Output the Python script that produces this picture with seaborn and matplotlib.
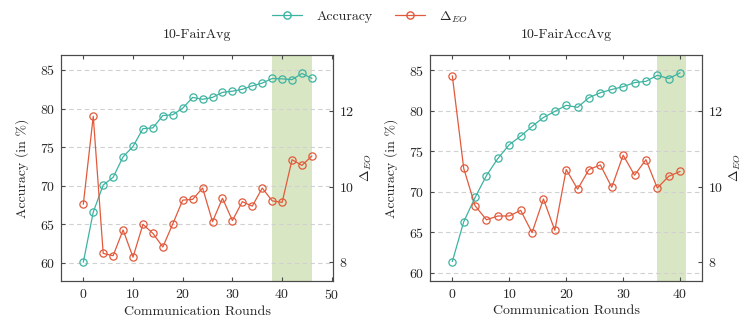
import numpy as np
import pandas as pd
import matplotlib
matplotlib.use("Agg")
import matplotlib.pyplot as plt
import seaborn as sns
from matplotlib.lines import Line2D

# ---------------- data ----------------
rounds_fairavg = list(range(0, 47, 2))
acc_fairavg = [60.1, 66.6, 70.1, 71.1, 73.75, 75.1, 77.4, 77.5, 79.1, 79.2, 80.05, 81.45,
               81.2, 81.45, 82.1, 82.25, 82.5, 82.95, 83.3, 83.9, 83.85, 83.75, 84.55, 83.9]
deo_fairavg = [9.53, 11.86, 8.23, 8.17, 8.85, 8.13, 9.00, 8.76, 8.40, 9.01, 9.64, 9.66,
               9.96, 9.07, 9.69, 9.10, 9.60, 9.48, 9.96, 9.62, 9.58, 10.71, 10.56, 10.81]

rounds_fairaccavg = list(range(0, 41, 2))
acc_fairaccavg = [61.4, 66.3, 69.3, 72.0, 74.1, 75.8, 76.85, 78.05, 79.15, 79.9, 80.65,
                  80.4, 81.6, 82.2, 82.6, 82.95, 83.45, 83.6, 84.35, 83.95, 84.65]
deo_fairaccavg = [12.93, 10.48, 9.49, 9.12, 9.22, 9.22, 9.37, 8.78, 9.67, 8.84, 10.45,
                  9.93, 10.45, 10.57, 9.98, 10.83, 10.30, 10.71, 9.96, 10.27, 10.40]

titles = ["10-FairAvg", "10-FairAccAvg"]
shade_ranges = [(38, 46), (36, 41)]
xlims = [(-4.55, 50.3), (-3.92, 43.9)]
ylims_acc = [(57.67, 86.94), (59.0, 86.85)]
ylim_deo = (7.5, 13.48)
xticks_list = [[0, 10, 20, 30, 40, 50], [0, 10, 20, 30, 40]]
acc_ticks = [60, 65, 70, 75, 80, 85]
deo_ticks = [8, 10, 12]

# ---------------- style ----------------
sns.set_style("white")
plt.rcParams["font.family"] = ["cmr10", "DejaVu Serif"]
plt.rcParams["mathtext.fontset"] = "cm"
plt.rcParams["axes.formatter.use_mathtext"] = True
plt.rcParams["axes.unicode_minus"] = False

ACC_C = "#3db3a1"
DEO_C = "#e25a3c"
SHADE_C = "#d9e6c3"
SPINE_C = "#4a4a4a"
FS = 10

fig = plt.figure(figsize=(7.47, 3.19), dpi=100)
positions = [[60.7 / 747, 38 / 319, (333.3 - 60.7) / 747, 226 / 319],
             [430 / 747, 38 / 319, (702.3 - 430) / 747, 226 / 319]]

datasets = [(rounds_fairavg, acc_fairavg, deo_fairavg),
            (rounds_fairaccavg, acc_fairaccavg, deo_fairaccavg)]

for i, (r, acc, deo) in enumerate(datasets):
    ax = fig.add_axes(positions[i])
    ax2 = ax.twinx()
    df = pd.DataFrame({"round": r, "acc": acc, "deo": deo})

    ax.axvspan(shade_ranges[i][0], shade_ranges[i][1], color=SHADE_C, lw=0, zorder=0)
    ax.set_yticks(acc_ticks)
    ax.yaxis.grid(True, linestyle=(0, (4, 3)), color="#d0d0d0", linewidth=0.8, zorder=0.5)
    ax.set_axisbelow(True)

    sns.lineplot(data=df, x="round", y="acc", ax=ax, color=ACC_C, lw=0.9,
                 marker="o", markersize=5.2, markerfacecolor="none",
                 markeredgecolor=ACC_C, markeredgewidth=0.9, zorder=3)
    sns.lineplot(data=df, x="round", y="deo", ax=ax2, color=DEO_C, lw=0.9,
                 marker="o", markersize=5.2, markerfacecolor="none",
                 markeredgecolor=DEO_C, markeredgewidth=0.9, zorder=3)

    ax.set_xlim(*xlims[i])
    ax.set_ylim(*ylims_acc[i])
    ax2.set_ylim(*ylim_deo)
    ax.set_xticks(xticks_list[i])
    ax2.set_yticks(deo_ticks)

    ax.set_title(titles[i], fontsize=FS, pad=12)
    ax.set_xlabel("Communication Rounds", fontsize=FS, labelpad=3)
    ax.set_ylabel("Accuracy (in %)", fontsize=FS, labelpad=8)
    ax2.set_ylabel(r"$\Delta_{EO}$", fontsize=FS, labelpad=3)

    for a in (ax, ax2):
        for s in a.spines.values():
            s.set_color(SPINE_C)
            s.set_linewidth(0.8)
    ax.tick_params(axis="x", direction="in", top=True, bottom=True, length=3,
                   color=SPINE_C, labelsize=FS, pad=5)
    ax.tick_params(axis="y", direction="in", left=True, right=False, length=3,
                   color=SPINE_C, labelsize=FS, pad=4)
    ax2.tick_params(axis="y", direction="in", right=True, length=3,
                    color=SPINE_C, labelsize=FS, pad=4)

handles = [Line2D([0], [0], color=ACC_C, lw=0.9, marker="o", markersize=5.2,
                  markerfacecolor="none", markeredgecolor=ACC_C),
           Line2D([0], [0], color=DEO_C, lw=0.9, marker="o", markersize=5.2,
                  markerfacecolor="none", markeredgecolor=DEO_C)]
fig.legend(handles, ["Accuracy", r"$\Delta_{EO}$"], loc="upper center",
           bbox_to_anchor=(0.495, 1.01), ncol=2, frameon=False, fontsize=FS,
           handlelength=2.2, columnspacing=1.6, handletextpad=1.0)

fig.savefig("out.png", dpi=100)
